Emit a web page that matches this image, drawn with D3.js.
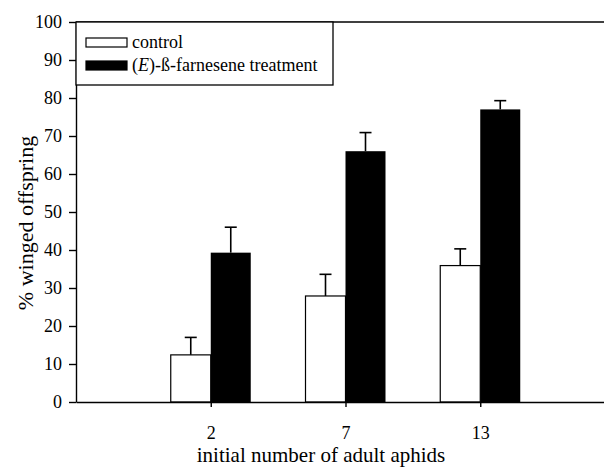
<!DOCTYPE html>
<html>
<head>
<meta charset="utf-8">
<script src="https://cdn.jsdelivr.net/npm/d3@7"></script>
<style>
  body { margin: 0; background: #fff; }
  svg { display: block; font-family: "Liberation Serif", "Times New Roman", serif; }
</style>
</head>
<body>
<svg width="604" height="469"></svg>
<script>
// initial number of adult aphids (categories)
var groups = ["2", "7", "13"];
// % winged offspring, means and upper error bars
var controlMean = [12.4, 27.9, 35.9];
var controlErr = [4.6, 5.7, 4.4];
var treatMean = [39.3, 66.0, 77.0];
var treatErr = [6.7, 4.9, 2.3];
var yTicks = [0, 10, 20, 30, 40, 50, 60, 70, 80, 90, 100];
var seriesNames = ["control", "treatment"];

var svg = d3.select("svg");

// x: each group sits on a whole-number position, the bars on either side of it
var xScale = d3.scaleLinear().domain([0, 4]).range([76, 615]);
var yScale = d3.scaleLinear().domain([0, 100]).range([402, 22]);
var barW = 40;

var rows = groups.map(function (g, i) {
    return { g: g, pos: i + 1, c: controlMean[i], ce: controlErr[i], t: treatMean[i], te: treatErr[i] };
});

// top frame line
svg.append("line")
    .attr("x1", xScale(0)).attr("x2", 604)
    .attr("y1", yScale(100)).attr("y2", yScale(100))
    .attr("stroke", "#000").attr("stroke-width", 1.3);

// error bars (drawn before bars so the stem starts on the bar top)
function errBar(sel, xc, v, e) {
    sel.append("line")
        .attr("x1", xc).attr("x2", xc)
        .attr("y1", yScale(v)).attr("y2", yScale(v + e))
        .attr("stroke", "#000").attr("stroke-width", 1.6);
    sel.append("line")
        .attr("x1", xc - 6).attr("x2", xc + 6)
        .attr("y1", yScale(v + e)).attr("y2", yScale(v + e))
        .attr("stroke", "#000").attr("stroke-width", 1.6);
}

var gBars = svg.append("g");
rows.forEach(function (d) {
    var xc = xScale(d.pos);
    errBar(gBars, xc - barW / 2, d.c, d.ce);
    errBar(gBars, xc + barW / 2, d.t, d.te);
    gBars.append("rect")
        .attr("x", xc - barW).attr("y", yScale(d.c))
        .attr("width", barW).attr("height", yScale(0) - yScale(d.c))
        .attr("fill", "#fff").attr("stroke", "#000").attr("stroke-width", 1.2);
    gBars.append("rect")
        .attr("x", xc).attr("y", yScale(d.t))
        .attr("width", barW).attr("height", yScale(0) - yScale(d.t))
        .attr("fill", "#000");
});

// axes
var yAxis = d3.axisLeft(yScale).tickValues(yTicks).tickSize(7).tickPadding(7).tickSizeOuter(0);
var gy = svg.append("g")
    .attr("transform", "translate(" + xScale(0) + ",0)")
    .call(yAxis);

var xAxis = d3.axisBottom(xScale)
    .tickValues(rows.map(function (d) { return d.pos; }))
    .tickFormat(function (p) { return groups[p - 1]; })
    .tickSize(5).tickPadding(19).tickSizeOuter(0);
var gx = svg.append("g")
    .attr("transform", "translate(0," + yScale(0) + ")")
    .call(xAxis);

[gx, gy].forEach(function (g) {
    g.selectAll("path, line").attr("stroke", "#000").attr("stroke-width", 1.4);
    g.selectAll("text")
        .attr("fill", "#000")
        .style("font-family", "Liberation Serif")
        .style("font-size", "18px");
});

// axis titles
svg.append("text")
    .attr("x", 321).attr("y", 462)
    .attr("text-anchor", "middle")
    .style("font-size", "21px")
    .text("initial number of adult aphids");

svg.append("text")
    .attr("transform", "translate(33,223) rotate(-90)")
    .attr("text-anchor", "middle")
    .style("font-size", "22px")
    .text("% winged offspring");

// legend
var legend = svg.append("g");
legend.append("rect")
    .attr("x", xScale(0)).attr("y", yScale(100))
    .attr("width", 333 - xScale(0)).attr("height", 63)
    .attr("fill", "#fff").attr("stroke", "#000").attr("stroke-width", 1.3);

seriesNames.forEach(function (s, i) {
    var yy = 38 + i * 23;
    legend.append("rect")
        .attr("x", 86).attr("y", yy)
        .attr("width", 41).attr("height", 9)
        .attr("fill", i === 0 ? "#fff" : "#000")
        .attr("stroke", "#000").attr("stroke-width", 1.2);
    var t = legend.append("text")
        .attr("x", 132).attr("y", yy + 10)
        .style("font-size", "18px");
    if (i === 0) {
        t.text("control");
    } else {
        t.append("tspan").text("(");
        t.append("tspan").style("font-style", "italic").text("E");
        t.append("tspan").text(")-ß-farnesene treatment");
    }
});
</script>
</body>
</html>
